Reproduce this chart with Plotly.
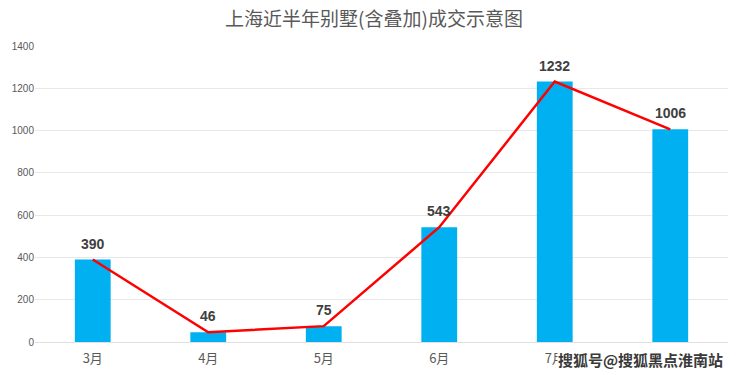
import plotly.graph_objects as go

months = ["3月", "4月", "5月", "6月", "7月", "8月"]
values = [390, 46, 75, 543, 1232, 1006]
y_ticks = [0, 200, 400, 600, 800, 1000, 1200, 1400]

# page body has an 8px default margin; compensate so the plot sits where the reference does
W, H = 732, 367
L, R, T, B = 27, 12, 38, 33
plot_h = H - T - B

fig = go.Figure()
fig.add_trace(go.Bar(
    x=months, y=values, marker_color="#00B0F0", marker_line_width=0,
    showlegend=False, hoverinfo="x+y",
))
fig.add_trace(go.Scatter(
    x=months, y=values, mode="lines", line=dict(color="#FF0000", width=2.5),
    showlegend=False,
))
for m, v in zip(months, values):
    fig.add_annotation(
        x=m, y=v, text=f"<b>{v}</b>", showarrow=False, yanchor="bottom",
        yshift=6, font=dict(family="Liberation Sans, Arial", size=14, color="#404040"),
    )

fig.update_layout(
    width=W, height=H,
    margin=dict(l=L, r=R, t=T, b=B, autoexpand=False),
    paper_bgcolor="white", plot_bgcolor="white",
    bargap=0.69,
    title=dict(text="上海近半年别墅(含叠加)成交示意图", x=0.5, xanchor="center",
               y=1 - 11 / H, yanchor="middle",
               font=dict(family="Noto Sans CJK SC", size=19, color="#595959")),
    xaxis=dict(showgrid=False, showline=True, linecolor="#e0e0e0", linewidth=1,
               automargin=False, ticks="", ticklabelstandoff=4,
               tickfont=dict(family="Noto Sans CJK SC", size=13, color="#595959")),
    yaxis=dict(range=[0, 1400], tickvals=y_ticks, showgrid=True, gridcolor="#e8e8e8",
               automargin=False, zeroline=False, ticks="", ticklen=0,
               tickfont=dict(family="Liberation Sans, Arial", size=10, color="#595959")),
)
fig.add_annotation(
    text="<b>搜狐号@搜狐黑点淮南站</b>", xref="paper", yref="paper",
    x=(716 - L) / (W - L - R), y=-17 / plot_h, xanchor="right", yanchor="middle",
    showarrow=False, bgcolor="white",
    font=dict(family="Noto Sans CJK SC", size=15, color="#3a3a3a"),
    borderpad=0,
)
fig.write_html("out.html")
